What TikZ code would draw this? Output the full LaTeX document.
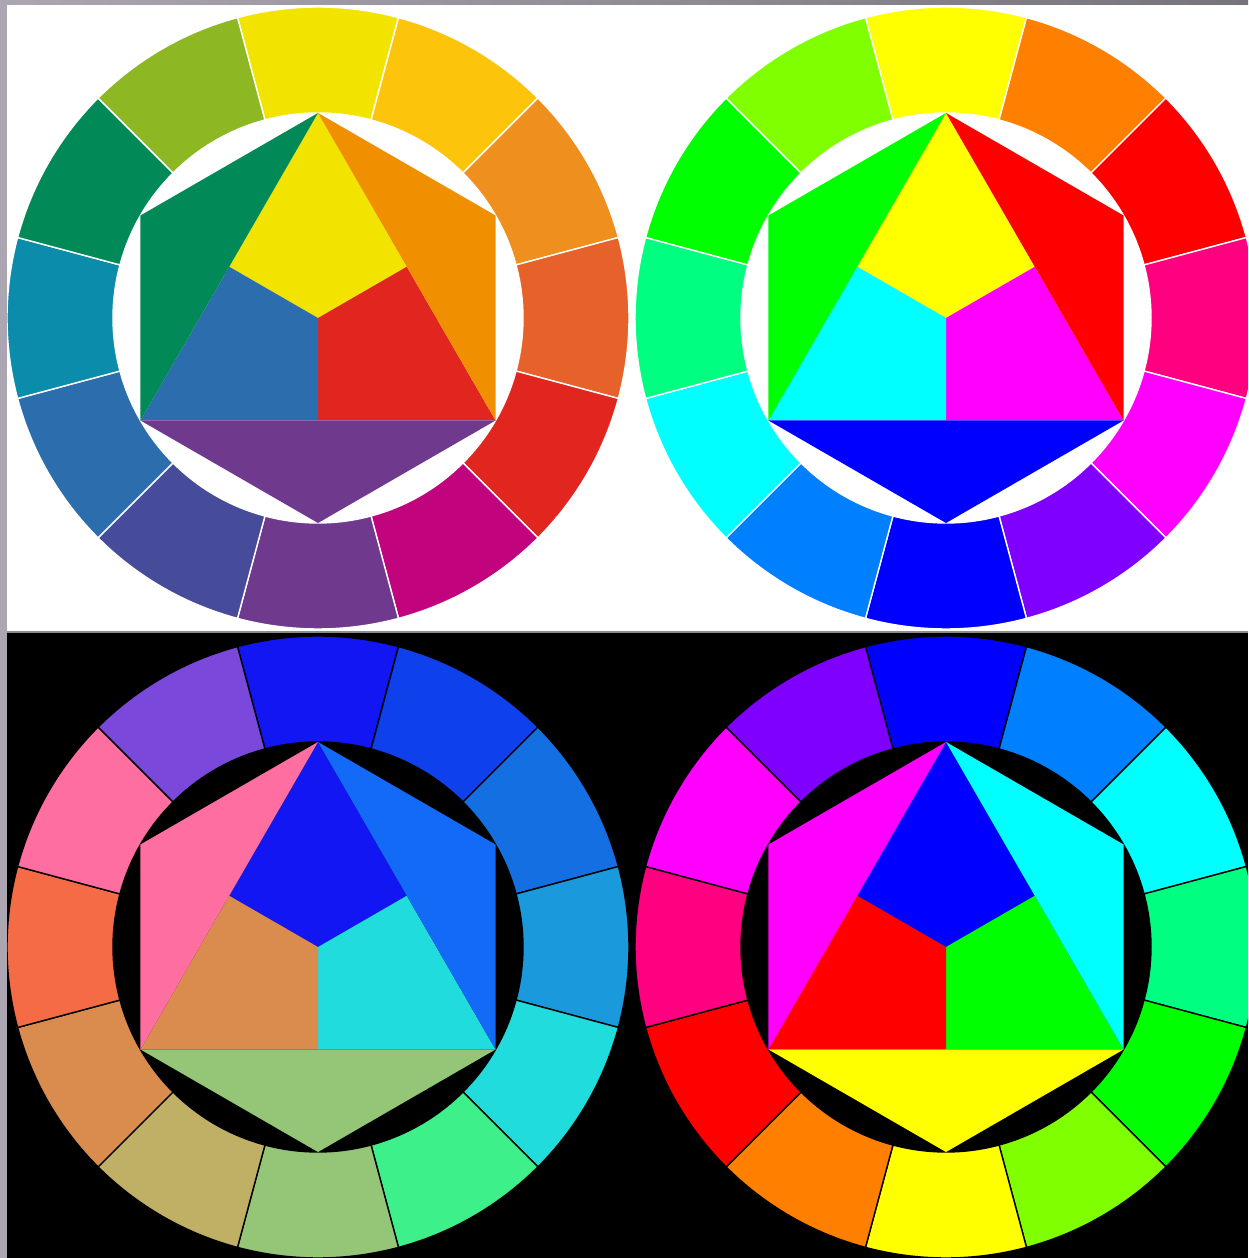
\documentclass[tikz,border=0pt]{standalone}
\usetikzlibrary{calc}
% --- Itten wheel (top left) ---
\definecolor{iyel}{HTML}{F3E400}
\definecolor{iyor}{HTML}{FCC50C}
\definecolor{iora}{HTML}{EF8F1E}
\definecolor{iorn}{HTML}{F09000}
\definecolor{iror}{HTML}{E7622A}
\definecolor{ired}{HTML}{E1251F}
\definecolor{irvi}{HTML}{C1047E}
\definecolor{ivio}{HTML}{6F3A8E}
\definecolor{ibvi}{HTML}{464C99}
\definecolor{iblu}{HTML}{2C6DAE}
\definecolor{ibgr}{HTML}{0C8CAB}
\definecolor{igre}{HTML}{018A57}
\definecolor{iygr}{HTML}{8DB823}
% --- RGB wheel (top right, bottom right) ---
\definecolor{ryel}{HTML}{FFFF00}
\definecolor{rora}{HTML}{FF8000}
\definecolor{rred}{HTML}{FF0000}
\definecolor{rros}{HTML}{FF0080}
\definecolor{rmag}{HTML}{FF00FF}
\definecolor{rvio}{HTML}{8000FF}
\definecolor{rblu}{HTML}{0000FF}
\definecolor{razu}{HTML}{0080FF}
\definecolor{rcya}{HTML}{00FFFF}
\definecolor{rspr}{HTML}{00FF80}
\definecolor{rgre}{HTML}{00FF00}
\definecolor{rcha}{HTML}{80FF00}
% --- complementary Itten wheel (bottom left) ---
\definecolor{dblu}{HTML}{1216F3}
\definecolor{dblm}{HTML}{0E40EC}
\definecolor{dazu}{HTML}{1470E2}
\definecolor{dazi}{HTML}{126AF6}
\definecolor{dsky}{HTML}{1A99DC}
\definecolor{dcya}{HTML}{20DCDC}
\definecolor{dspr}{HTML}{3EF08A}
\definecolor{dsag}{HTML}{95C576}
\definecolor{dolv}{HTML}{BFB066}
\definecolor{dtan}{HTML}{D98C4E}
\definecolor{dcor}{HTML}{F56B45}
\definecolor{dpnk}{HTML}{FF6EA0}
\definecolor{dvio}{HTML}{7A48DA}
% --- frame ---
\definecolor{framegrey}{HTML}{ABA6B2}
\definecolor{framedark}{HTML}{77737B}
\definecolor{divider}{HTML}{8C8C8C}
\tikzset{
    segment/.style={line width=0.8pt, line join=round},
    piece/.style={draw=none},
    frame/.style={fill=framegrey, draw=none}
}
% ring of twelve segments, yellow/blue on top, running clockwise
\newcommand{\ringwheel}[3]{%
    \begin{scope}[shift={#1}]
        \foreach \c [count=\i] in {#2} {
            \pgfmathsetmacro{\aa}{105-30*(\i-1)}
            \pgfmathsetmacro{\ab}{\aa-30}
            \filldraw[segment, fill=\c, draw=#3]
                (\aa:311) arc (\aa:\ab:311) -- (\ab:205) arc (\ab:\aa:205) -- cycle;
        }
    \end{scope}}
% hexagon: kite top, lower right, lower left, left, right, bottom triangles
\newcommand{\innerstar}[7]{%
    \begin{scope}[shift={#1}]
        \coordinate (t)  at (90:205);
        \coordinate (ur) at (30:205);
        \coordinate (lr) at (-30:205);
        \coordinate (b)  at (-90:205);
        \coordinate (ll) at (-150:205);
        \coordinate (ul) at (150:205);
        \coordinate (o)  at (0,0);
        \coordinate (ml) at ($(t)!0.5!(ll)$);
        \coordinate (mr) at ($(t)!0.5!(lr)$);
        \coordinate (mb) at ($(ll)!0.5!(lr)$);
        \fill[piece, #2] (t) -- (mr) -- (o) -- (ml) -- cycle;
        \fill[piece, #3] (lr) -- (mb) -- (o) -- (mr) -- cycle;
        \fill[piece, #4] (ll) -- (ml) -- (o) -- (mb) -- cycle;
        \fill[piece, #5] (t) -- (ul) -- (ll) -- cycle;
        \fill[piece, #6] (t) -- (ur) -- (lr) -- cycle;
        \fill[piece, #7] (ll) -- (b) -- (lr) -- cycle;
    \end{scope}}

\begin{document}
\begin{tikzpicture}[x=0.02cm, y=0.02cm]

    \clip (0,0) rectangle (1248,1258);

    % --- Backgrounds ---
    \fill[white] (0,626) rectangle (1248,1258);
    \fill[black] (0,0) rectangle (1248,626);
    \draw[divider, line width=0.6pt] (0,626) -- (1248,626);

    % --- Top left: Itten ---
    \ringwheel{(318,940)}{iyel,iyor,iora,iror,ired,irvi,ivio,ibvi,iblu,ibgr,igre,iygr}{white}
    \innerstar{(318,940)}{iyel}{ired}{iblu}{igre}{iorn}{ivio}

    % --- Top right: RGB ---
    \ringwheel{(946,940)}{ryel,rora,rred,rros,rmag,rvio,rblu,razu,rcya,rspr,rgre,rcha}{white}
    \innerstar{(946,940)}{ryel}{rmag}{rcya}{rgre}{rred}{rblu}

    % --- Bottom left: complementary Itten ---
    \ringwheel{(318,311)}{dblu,dblm,dazu,dsky,dcya,dspr,dsag,dolv,dtan,dcor,dpnk,dvio}{black}
    \innerstar{(318,311)}{dblu}{dcya}{dtan}{dpnk}{dazi}{dsag}

    % --- Bottom right: complementary RGB ---
    \ringwheel{(946,311)}{rblu,razu,rcya,rspr,rgre,rcha,ryel,rora,rred,rros,rmag,rvio}{black}
    \innerstar{(946,311)}{rblu}{rgre}{rred}{rmag}{rcya}{ryel}

    % --- Frame ---
    \fill[frame] (0,0) rectangle (7,1258);
    \shade[left color=framegrey, right color=framedark] (0,1253) rectangle (1248,1258);

\end{tikzpicture}
\end{document}
